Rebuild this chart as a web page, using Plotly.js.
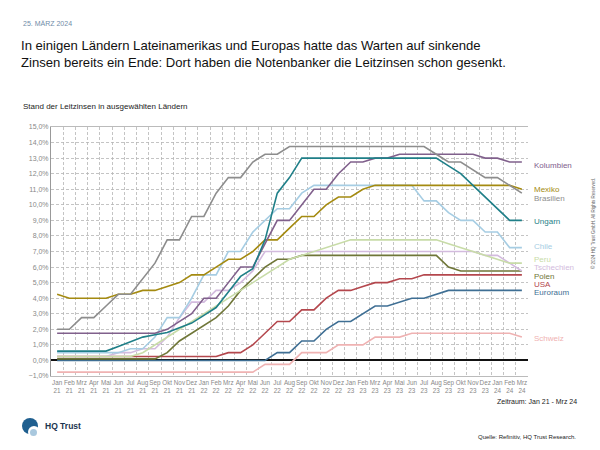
<!DOCTYPE html>
<html><head><meta charset="utf-8">
<script src="https://cdn.plot.ly/plotly-3.0.1.min.js"></script>
<style>html,body{margin:0;padding:0;background:#fff;} #chart{width:600px;height:450px;}</style>
</head><body><div id="chart"></div>
<script>
const categories = ['Jan 21','Feb 21','Mrz 21','Apr 21','Mai 21','Jun 21','Jul 21','Aug 21','Sep 21','Okt 21','Nov 21','Dez 21',
  'Jan 22','Feb 22','Mrz 22','Apr 22','Mai 22','Jun 22','Jul 22','Aug 22','Sep 22','Okt 22','Nov 22','Dez 22',
  'Jan 23','Feb 23','Mrz 23','Apr 23','Mai 23','Jun 23','Jul 23','Aug 23','Sep 23','Okt 23','Nov 23','Dez 23',
  'Jan 24','Feb 24','Mrz 24'];
const tickLabels = ['Jan<br>21','Feb<br>21','Mrz<br>21','Apr<br>21','Mai<br>21','Jun<br>21','Jul<br>21','Aug<br>21','Sep<br>21','Okt<br>21','Nov<br>21','Dez<br>21',
  'Jan<br>22','Feb<br>22','Mrz<br>22','Apr<br>22','Mai<br>22','Jun<br>22','Jul<br>22','Aug<br>22','Sep<br>22','Okt<br>22','Nov<br>22','Dez<br>22',
  'Jan<br>23','Feb<br>23','Mrz<br>23','Apr<br>23','Mai<br>23','Jun<br>23','Jul<br>23','Aug<br>23','Sep<br>23','Okt<br>23','Nov<br>23','Dez<br>23',
  'Jan<br>24','Feb<br>24','Mrz<br>24'];

const brasilien = [2.0,2.0,2.75,2.75,3.5,4.25,4.25,5.25,6.25,7.75,7.75,9.25,
  9.25,10.75,11.75,11.75,12.75,13.25,13.25,13.75,13.75,13.75,13.75,13.75,
  13.75,13.75,13.75,13.75,13.75,13.75,13.75,13.25,12.75,12.75,12.25,11.75,
  11.75,11.25,10.75];
const ungarn = [0.6,0.6,0.6,0.6,0.6,0.9,1.2,1.5,1.65,1.8,2.1,2.4,
  2.9,3.4,4.4,5.4,5.9,7.75,10.75,11.75,13.0,13.0,13.0,13.0,
  13.0,13.0,13.0,13.0,13.0,13.0,13.0,13.0,12.5,12.0,11.25,10.5,
  9.75,9.0,9.0];
const kolumbien = [1.75,1.75,1.75,1.75,1.75,1.75,1.75,1.75,1.75,2.0,2.5,3.0,
  4.0,4.0,5.0,6.0,6.0,7.5,9.0,9.0,10.0,11.0,11.0,12.0,
  12.75,12.75,13.0,13.0,13.25,13.25,13.25,13.25,13.25,13.25,13.25,13.0,
  13.0,12.75,12.75];
const mexiko = [4.25,4.0,4.0,4.0,4.0,4.25,4.25,4.5,4.5,4.75,5.0,5.5,
  5.5,6.0,6.5,6.5,7.0,7.75,7.75,8.5,9.25,9.25,10.0,10.5,
  10.5,11.0,11.25,11.25,11.25,11.25,11.25,11.25,11.25,11.25,11.25,11.25,
  11.25,11.25,11.0];
const chile = [0.5,0.5,0.5,0.5,0.5,0.5,0.75,0.75,1.5,2.75,2.75,4.0,
  5.5,5.5,7.0,7.0,8.25,9.0,9.75,9.75,10.75,11.25,11.25,11.25,
  11.25,11.25,11.25,11.25,11.25,11.25,10.25,10.25,9.5,9.0,9.0,8.25,
  8.25,7.25,7.25];
const peru = [0.25,0.25,0.25,0.25,0.25,0.25,0.25,0.5,1.0,1.5,2.0,2.5,
  3.0,3.5,4.0,4.5,5.0,5.5,6.0,6.5,6.75,7.0,7.25,7.5,
  7.75,7.75,7.75,7.75,7.75,7.75,7.75,7.75,7.5,7.25,7.0,6.75,
  6.5,6.25,6.25];
const tschechien = [0.25,0.25,0.25,0.25,0.25,0.5,0.5,0.75,0.75,1.5,2.75,3.75,
  3.75,4.5,4.5,5.0,5.75,7.0,7.0,7.0,7.0,7.0,7.0,7.0,
  7.0,7.0,7.0,7.0,7.0,7.0,7.0,7.0,7.0,7.0,7.0,6.75,
  6.75,6.25,5.75];
const polen = [0.1,0.1,0.1,0.1,0.1,0.1,0.1,0.1,0.1,0.5,1.25,1.75,
  2.25,2.75,3.5,4.5,5.25,6.0,6.5,6.5,6.75,6.75,6.75,6.75,
  6.75,6.75,6.75,6.75,6.75,6.75,6.75,6.75,6.0,5.75,5.75,5.75,
  5.75,5.75,5.75];
const usa = [0.25,0.25,0.25,0.25,0.25,0.25,0.25,0.25,0.25,0.25,0.25,0.25,
  0.25,0.25,0.5,0.5,1.0,1.75,2.5,2.5,3.25,3.25,4.0,4.5,
  4.5,4.75,5.0,5.0,5.25,5.25,5.5,5.5,5.5,5.5,5.5,5.5,
  5.5,5.5,5.5];
const euroraum = [0,0,0,0,0,0,0,0,0,0,0,0,
  0,0,0,0,0,0,0.5,0.5,1.25,1.25,2.0,2.5,
  2.5,3.0,3.5,3.5,3.75,4.0,4.0,4.25,4.5,4.5,4.5,4.5,
  4.5,4.5,4.5];
const schweiz = [-0.75,-0.75,-0.75,-0.75,-0.75,-0.75,-0.75,-0.75,-0.75,-0.75,-0.75,-0.75,
  -0.75,-0.75,-0.75,-0.75,-0.75,-0.25,-0.25,-0.25,0.5,0.5,0.5,1.0,
  1.0,1.0,1.5,1.5,1.5,1.75,1.75,1.75,1.75,1.75,1.75,1.75,
  1.75,1.75,1.5];

const seriesNames = ['Schweiz','Euroraum','USA','Polen','Tschechien','Peru','Chile','Mexiko','Kolumbien','Ungarn','Brasilien'];
const seriesValues = [schweiz, euroraum, usa, polen, tschechien, peru, chile, mexiko, kolumbien, ungarn, brasilien];

// styling (not data)
const style = {
  Schweiz:   {color:'#efb2b2', labelY:1.4},
  Euroraum:  {color:'#3f6f94', labelY:4.35},
  USA:       {color:'#b4474d', labelY:4.9},
  Polen:     {color:'#6f7638', labelY:5.4},
  Tschechien:{color:'#d3bbde', labelY:5.95},
  Peru:      {color:'#c8dca8', labelY:6.5},
  Chile:     {color:'#a6cde3', labelY:7.3},
  Mexiko:    {color:'#a48a10', labelY:10.97},
  Kolumbien: {color:'#80608c', labelY:12.5},
  Ungarn:    {color:'#1f7f88', labelY:8.9},
  Brasilien: {color:'#8d8d8d', labelY:10.4}
};

const W=600,H=450,L=51,R=72,T=127,B=74;
const pw=W-L-R, ph=H-T-B;
const px = x => (x-L)/pw;
const py = y => (H-B-y)/ph;
const FONT = 'Liberation Sans, Arial, sans-serif';

const traces = seriesNames.map((n,i)=>({
  type:'scatter', mode:'lines', name:n, x:categories, y:seriesValues[i],
  line:{color:style[n].color, width:1.6}, hoverinfo:'skip'
}));

const annotations = seriesNames.map(n=>({
  xref:'paper', yref:'y', x:px(532), y:style[n].labelY, xanchor:'left', yanchor:'middle',
  text:n, showarrow:false, font:{family:FONT, size:8, color:style[n].color}
}));
function txt(t,x,y,size,color,opts){
  return Object.assign({xref:'paper',yref:'paper',x:px(x),y:py(y),xanchor:'left',yanchor:'middle',
    text:t,showarrow:false,font:{family:FONT,size:size,color:color}},opts||{});
}
annotations.push(txt('25. MÄRZ 2024',21,24,7,'#6f8ca8'));
annotations.push(txt('In einigen Ländern Lateinamerikas und Europas hatte das Warten auf sinkende<br>Zinsen bereits ein Ende: Dort haben die Notenbanker die Leitzinsen schon gesenkt.',19,54,13.1,'#111',{align:'left'}));
annotations.push(txt('Stand der Leitzinsen in ausgewählten Ländern',21,106,8,'#222'));
annotations.push(txt('Zeitraum: Jan 21 - Mrz 24',579,401,7,'#222',{xanchor:'right'}));
annotations.push(txt('Quelle: Refinitiv, HQ Trust Research.',578,437,6,'#222',{xanchor:'right'}));
annotations.push(txt('<b>HQ Trust</b>',43,426,8.5,'#1b3550'));
annotations.push(txt('© 2024 HQ Trust GmbH. All Rights Reserved.',593,224,4.5,'#666',{xanchor:'center',textangle:-90}));

const shapes = [
  {type:'circle',xref:'paper',yref:'paper',x0:px(22),x1:px(38),y0:py(434),y1:py(418),fillcolor:'#1f5f8f',line:{width:0}},
  {type:'circle',xref:'paper',yref:'paper',x0:px(28),x1:px(40),y0:py(438),y1:py(426),fillcolor:'#ffffff',line:{width:0}},
  {type:'circle',xref:'paper',yref:'paper',x0:px(30),x1:px(37),y0:py(436),y1:py(429),fillcolor:'#a9c8de',line:{width:0}}
];

const layout = {
  width:W, height:H, margin:{l:L,r:R,t:T,b:B,pad:0},
  paper_bgcolor:'#fff', plot_bgcolor:'#fff', showlegend:false,
  separators:',.',
  font:{family:FONT},
  xaxis:{type:'category', categoryarray:categories, tickmode:'array', tickvals:categories, ticktext:tickLabels,
    tickson:'boundaries', tickangle:0, range:[-0.5,38.5], showgrid:true, gridcolor:'#b5b5b5', gridwidth:0.8, griddash:'3px,2px',
    ticks:'', zeroline:false, showline:true, linecolor:'#bbb', mirror:true,
    tickfont:{family:FONT,size:6.3,color:'#888'}, fixedrange:true},
  yaxis:{range:[-1,15], dtick:1, tick0:0, tickformat:'.1f', ticksuffix:'%', showgrid:true, gridcolor:'#b5b5b5', gridwidth:0.8,
    griddash:'3px,2px', zeroline:true, zerolinecolor:'#111', zerolinewidth:2, showline:true, linecolor:'#999',
    ticks:'', tickfont:{family:FONT,size:7,color:'#888'}, fixedrange:true},
  annotations:annotations, shapes:shapes
};
Plotly.newPlot('chart', traces, layout, {displayModeBar:false, staticPlot:true});
</script>
</body></html>
